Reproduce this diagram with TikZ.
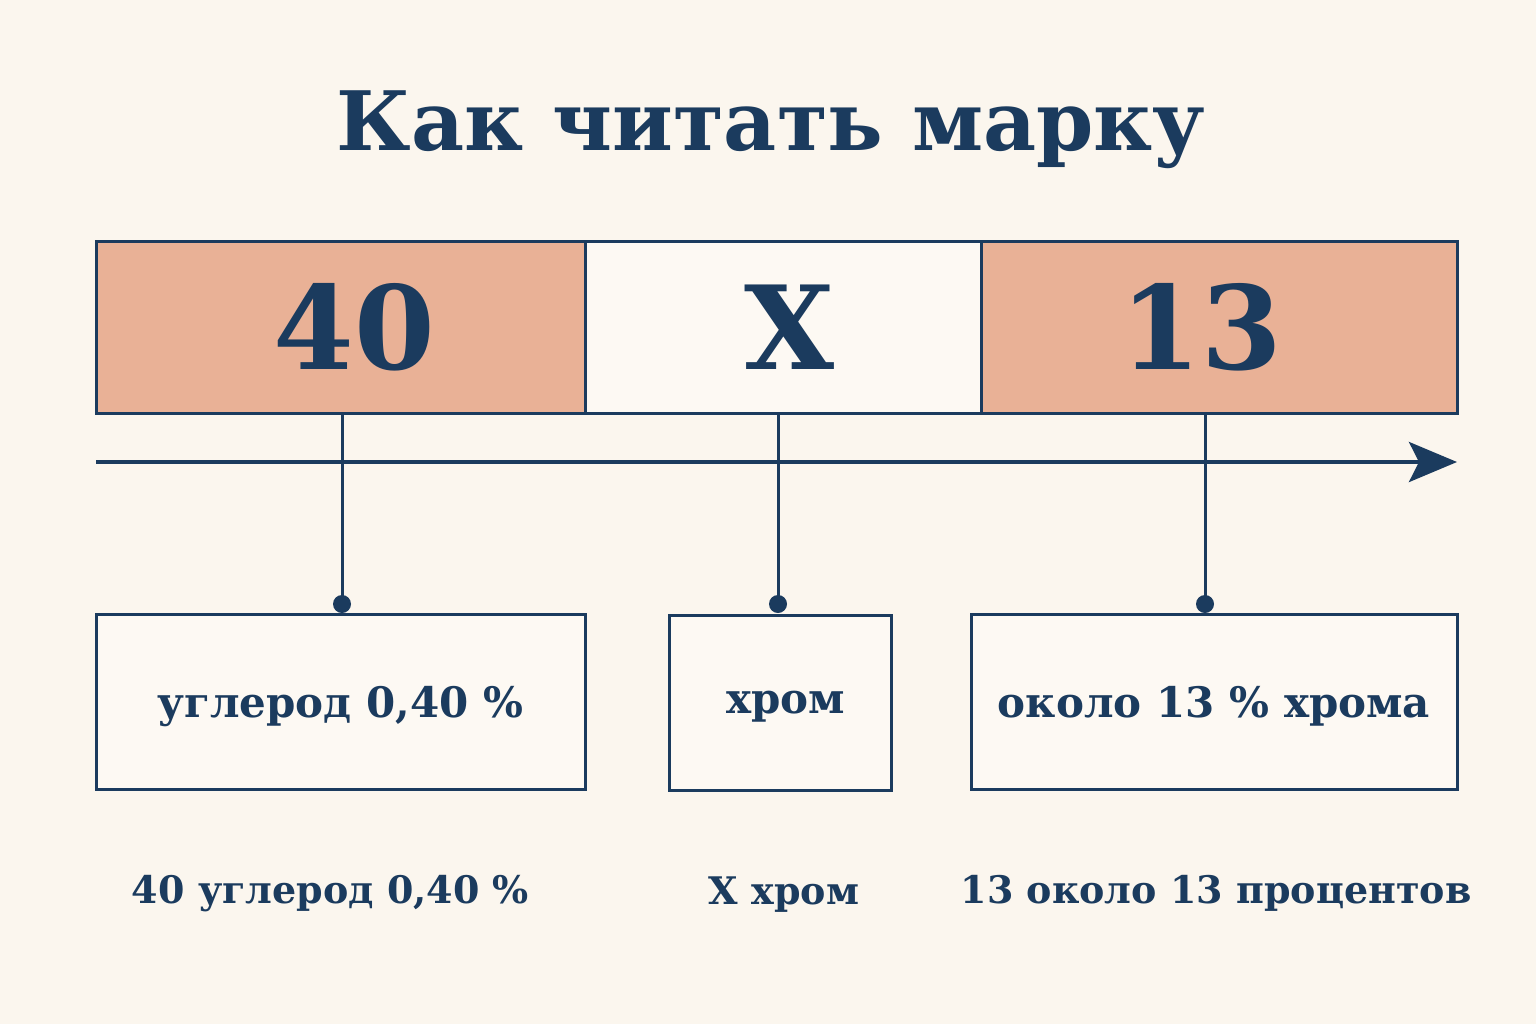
\documentclass[tikz,border=0pt]{standalone}
\usepackage{fontspec}
\setmainfont{DejaVu Serif}
\usetikzlibrary{arrows.meta,positioning}
\definecolor{navy}{HTML}{1B3B5E}
\definecolor{salmon}{HTML}{E9B196}
\definecolor{cream}{HTML}{FBF6EE}
\definecolor{paper}{HTML}{FDF9F3}
\begin{document}
\begin{tikzpicture}[x=0.5pt,y=-0.5pt,node distance=94pt,
    cell/.style={draw=navy,line width=1.5pt,minimum height=86pt,inner sep=0pt,
      text=navy,font=\fontsize{58}{58}\selectfont\bfseries},
    info/.style={draw=navy,line width=1.5pt,fill=paper,minimum height=87.5pt,inner sep=0pt,
      text depth=0pt,text=navy,font=\fontsize{21}{21}\selectfont\bfseries},
    note/.style={text=navy,font=\fontsize{19}{19}\selectfont\bfseries},
    wire/.style={navy,line width=1.5pt},
    pin/.style={fill=navy,draw=none}]
  \fill[cream] (0,0) rectangle (1536,1024);
  \useasboundingbox (0,0) rectangle (1536,1024);
  \node(T)[text=navy,font=\fontsize{41}{41}\selectfont\bfseries] at (771,130) {Как читать марку};
  % the grade, cell by cell
  \node(C1)[cell,fill=salmon,minimum width=244.5pt] at (340.5,327) {\hspace*{14pt}40};
  \node(C2)[cell,fill=paper,minimum width=198pt] at (783,327) {\hspace*{6pt}X};
  \node(C3)[cell,fill=salmon,minimum width=238pt] at (1219,327) {13\hspace*{18pt}};
  % reading direction
  \coordinate(A0) at (96,462);
  \coordinate(A1) at (1457,462);
  \draw[navy,line width=2pt,-{Stealth[length=24pt,width=20pt,inset=5pt]}] (A0) -- (A1);
  % meanings
  \node(B1)[info,minimum width=244.5pt] at (340.5,701.5) {углерод 0,40 \%};
  \node(B2)[info,minimum width=111pt] at (780,702.5) {\hspace*{6pt}хром};
  \node(B3)[info,minimum width=243pt] at (1214,701.5) {около 13 \% хрома};
  \coordinate(D1) at (342,604);
  \coordinate(D2) at (778,604);
  \coordinate(D3) at (1205,604);
  \foreach \c/\d in {C1/D1,C2/D2,C3/D3}{
    \draw[wire] (\c.south -| \d) -- (\d);
    \fill[pin] (\d) circle (4.5pt);
  }
  \node(L1)[note,below of=B1,xshift=-5pt,yshift=-2pt]{40 углерод 0,40 \%};
  \node(L2)[note,below of=B2,xshift=2pt,yshift=-2pt]{X хром};
  \node(L3)[note,below of=B3,xshift=1pt,yshift=-2pt]{13 около 13 процентов};
\end{tikzpicture}
\end{document}
